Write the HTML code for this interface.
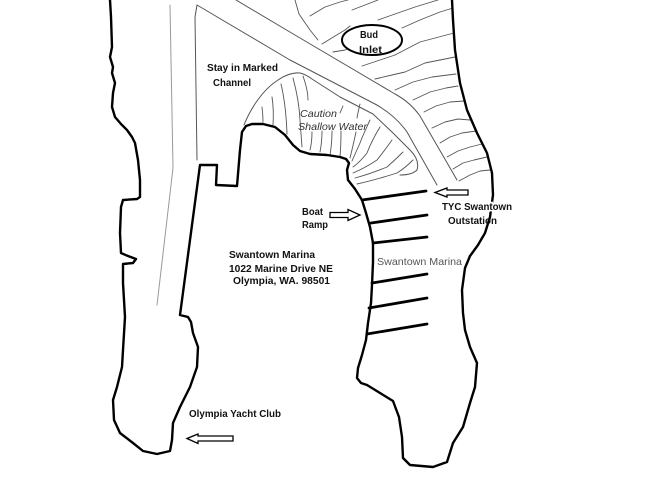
<!DOCTYPE html>
<html><head><meta charset="utf-8"><style>
html,body{margin:0;padding:0;background:#fff;}
svg{display:block;}
.b{font-family:"Liberation Sans",sans-serif;font-weight:bold;font-size:10px;fill:#111;}
.g{font-family:"Liberation Sans",sans-serif;font-size:10.5px;fill:#555;}
.i{font-family:"Liberation Sans",sans-serif;font-style:italic;font-size:10.5px;fill:#333;}
</style></head><body>
<svg width="653" height="479" viewBox="0 0 653 479" xmlns="http://www.w3.org/2000/svg">
<rect width="653" height="479" fill="#fff"/>
<!-- thin channel lines -->
<g fill="none" stroke-linecap="round" stroke-linejoin="round">
<polyline points="170,5 173,168 157,305" stroke="#999" stroke-width="1"/>
<path d="M197,160 L195,17 L197,5 L290,60 L375,104 Q395,115 407,132 L437,185" stroke="#555" stroke-width="1"/>
<path d="M236,0 L300,38 L395,94 Q410,102 420,116 L457,180" stroke="#555" stroke-width="1"/>
<!-- shallow area boundary -->
<path d="M244,125 C250,110 262,90 278,80 Q290,72 300,73 Q305,74 312,79 L340,97 L373,114 L393,133 L410,150 Q420,160 417,170 Q412,175 400,175" stroke="#555" stroke-width="1"/>
</g>
<!-- shallow hatching -->
<g fill="none" stroke="#555" stroke-width="0.9" stroke-linecap="round">
<path d="M262,107 Q263,115 263,122"/>
<path d="M272,97 Q274,110 273,125"/>
<path d="M281,84 Q286,105 287,134"/>
<path d="M293,78 Q299,100 300,120 L302,147"/>
<path d="M303,76 Q308,90 308,100"/>
<path d="M312,132 Q312,142 310,150"/>
<path d="M322,131 Q322,142 320,152"/>
<path d="M332,131 Q332,143 330,155"/>
<path d="M341,131 Q341,145 340,157"/>
<path d="M343,106 L340,113"/>
<path d="M360,104 Q358,112 357,118"/>
<path d="M356,132 Q353,146 350,158"/>
<path d="M370,120 Q363,135 360,143 Q356,152 352,161"/>
<path d="M380,127 Q372,140 367,153 Q360,162 353,167"/>
<path d="M392,140 Q385,150 377,160 Q365,168 353,173"/>
<path d="M403,152 Q395,160 387,167 Q370,174 355,178"/>
<path d="M413,160 Q405,168 397,173 Q375,180 357,184"/>
</g>
<!-- NE hatching -->
<g fill="none" stroke="#555" stroke-width="0.9" stroke-linecap="round" stroke-linejoin="round">
<polyline points="295,0 299,14 310,30 318,40"/>
<polyline points="310,16 325,7 340,2 348,0"/>
<polyline points="322,44 335,36 345,30 350,26"/>
<polyline points="333,52 345,50 352,48"/>
<polyline points="352,10 365,5 378,0"/>
<polyline points="378,20 395,14 415,7 438,0"/>
<polyline points="402,28 420,20 440,12 453,8"/>
<polyline points="362,66 380,60 395,55 420,42 454,33"/>
<polyline points="375,79 392,75 405,72 425,63 455,57"/>
<polyline points="395,90 413,82 432,77 456,74"/>
<polyline points="413,100 430,92 446,88 458,86"/>
<polyline points="424,112 436,106 450,102 464,101"/>
<polyline points="432,128 445,122 458,119 470,120"/>
<polyline points="440,143 450,137 462,133 476,131"/>
<polyline points="447,157 458,151 470,147 482,144"/>
<polyline points="453,169 463,163 474,160 487,157"/>
<polyline points="459,181 470,175 480,171 490,170"/>
</g>
<!-- main shoreline -->
<polyline fill="none" stroke="#000" stroke-width="2.4" stroke-linejoin="round" stroke-linecap="round" points="110,0 111,17 112,47 110,57 113,67 112,73 115,83 113,93 112,107 115,117 121,124 127,130 132,137 135,143 138,160 140,180 140,197 137,199 123,200 121,207 120,233 121,253 128,256 136,259 133,263 123,264 123,283 125,317 123,350 122,367 117,387 113,400 114,420 120,433 133,443 143,451 157,454 170,451 172,440 173,423 180,407 190,387 197,367 198,347 193,333 191,322 188,317 180,315 200,165 217,165 216,185 237,186 240,150 242,132 246,126 252,124 263,124 275,127 285,135 293,145 300,151 310,154 327,155 340,157 346,159 349,163 347,170 348,180 355,189 362,200 366,213 370,227 373,243 373,262 372,285 371,303 368,323 366,340 362,355 358,368 357,378 361,383 367,385 380,393 393,401 399,417 402,437 403,458 410,465 433,467 447,462 453,443 463,427 470,403 475,387 477,363 470,347 465,330 463,313 462,290 465,268 470,256 478,245 485,233 490,217 493,195 492,173 487,153 477,133 467,110 460,83 455,50 453,20 452,0"/>
<!-- docks -->
<g stroke="#000" stroke-width="2.8" stroke-linecap="round">
<line x1="362" y1="200" x2="426" y2="191"/>
<line x1="371" y1="223" x2="427" y2="215"/>
<line x1="373" y1="243" x2="427" y2="237"/>
<line x1="372" y1="283" x2="427" y2="274"/>
<line x1="369" y1="308" x2="427" y2="298"/>
<line x1="367" y1="334" x2="427" y2="324"/>
</g>
<!-- Bud Inlet oval -->
<ellipse cx="372" cy="40" rx="30" ry="15" fill="#fff" stroke="#000" stroke-width="2"/>
<!-- arrows -->
<g fill="#fff" stroke="#000" stroke-width="1.3" stroke-linejoin="miter">
<polygon points="330,212.5 348,212.5 348,209.5 360,215 348,220.5 348,217.5 330,217.5"/>
<polygon points="435,192.5 447,188 447,190 468,190 468,195 447,195 447,197"/>
<polygon points="187,438.5 198,434 198,436 233,436 233,441 198,441 198,443.5"/>
</g>
<!-- text -->
<text class="b" x="207" y="71" textLength="71" lengthAdjust="spacingAndGlyphs">Stay in Marked</text>
<text class="b" x="213" y="86" textLength="38" lengthAdjust="spacingAndGlyphs">Channel</text>
<text class="b" x="360" y="38" textLength="18" lengthAdjust="spacingAndGlyphs">Bud</text>
<text class="b" x="359" y="53" textLength="23" lengthAdjust="spacingAndGlyphs">Inlet</text>
<text class="i" x="300" y="117" textLength="37" lengthAdjust="spacingAndGlyphs">Caution</text>
<text class="i" x="298" y="130" textLength="69" lengthAdjust="spacingAndGlyphs">Shallow Water</text>
<text class="b" x="302" y="215" textLength="21" lengthAdjust="spacingAndGlyphs">Boat</text>
<text class="b" x="302" y="228" textLength="26" lengthAdjust="spacingAndGlyphs">Ramp</text>
<text class="b" x="442" y="210" textLength="70" lengthAdjust="spacingAndGlyphs" stroke="#fff" stroke-width="3" paint-order="stroke">TYC Swantown</text>
<text class="b" x="448" y="224" textLength="49" lengthAdjust="spacingAndGlyphs">Outstation</text>
<text class="g" x="377" y="265" textLength="85" lengthAdjust="spacingAndGlyphs">Swantown Marina</text>
<text class="b" x="229" y="258" textLength="86" lengthAdjust="spacingAndGlyphs">Swantown Marina</text>
<text class="b" x="229" y="272" textLength="104" lengthAdjust="spacingAndGlyphs">1022 Marine Drive NE</text>
<text class="b" x="233" y="284" textLength="97" lengthAdjust="spacingAndGlyphs">Olympia, WA. 98501</text>
<text class="b" x="189" y="417" textLength="92" lengthAdjust="spacingAndGlyphs">Olympia Yacht Club</text>
</svg>
</body></html>
